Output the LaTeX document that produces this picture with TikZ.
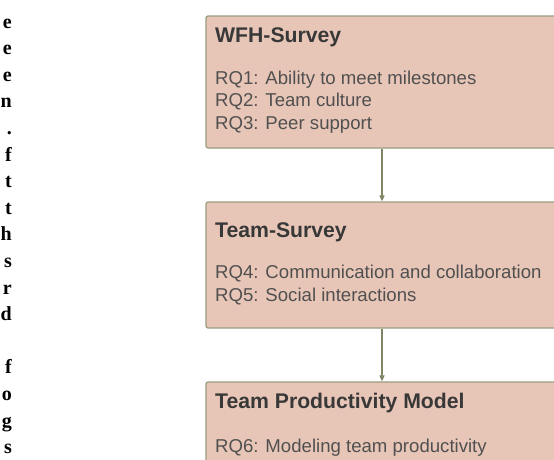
\documentclass[tikz,border=0pt]{standalone}
\usepackage{fontspec}
\setmainfont{Liberation Sans}
\newfontfamily\pagefont{Liberation Serif}
\usetikzlibrary{arrows.meta}
\definecolor{boxfill}{HTML}{E8C6B7}
\definecolor{boxline}{HTML}{9A9C80}
\definecolor{linkline}{HTML}{7E8666}
\definecolor{boxtext}{HTML}{383838}
\definecolor{itemtext}{HTML}{505050}
\tikzset{
  stage/.style={draw=boxline, line width=1.2pt, fill=boxfill, rounded corners=2pt,
    minimum width=352pt, inner sep=0pt},
  head/.style={anchor=base west, inner sep=0pt, text=boxtext,
    font=\fontsize{21.2}{25}\selectfont\bfseries},
  item/.style={anchor=base west, inner sep=0pt, text=itemtext,
    font=\fontsize{18.6}{22}\selectfont},
  flow/.style={draw=linkline, line width=1.4pt, -{Triangle[length=6pt,width=5pt]}},
  margin/.style={anchor=base east, inner sep=0pt,
    font=\pagefont\bfseries\fontsize{20}{24}\selectfont},
}
\begin{document}
\begin{tikzpicture}[x=1pt,y=-1pt]
      \clip (0,0) rectangle (554,459);
      \fill[white] (0,0) rectangle (554,459);
      % cut-off ends of the text lines on the left
      \path
        (12,28.0) node[margin] (l0){e}
        (12,54.6) node[margin] (l1){e}
        (12,81.2) node[margin] (l2){e}
        (12,107.8) node[margin] (l3){n}
        (12,134.4) node[margin] (l4){.}
        (12,161.0) node[margin] (l5){f}
        (12,187.6) node[margin] (l6){t}
        (12,214.2) node[margin] (l7){t}
        (12,240.8) node[margin] (l8){h}
        (12,267.4) node[margin] (l9){s}
        (12,294.0) node[margin] (l10){r}
        (12,320.6) node[margin] (l11){d}
        (12,373.8) node[margin] (l12){f}
        (12,400.4) node[margin] (l13){o}
        (12,427.0) node[margin] (l14){g}
        (12,453.6) node[margin] (l15){s};
      % stages
      \node[stage, minimum height=132pt] (wfh) at (382,82) {};
      \node[stage, minimum height=126pt] (team) at (382,265) {};
      \node[stage, minimum height=140pt] (model) at (382,452) {};
      \draw[flow] (wfh) -- (team);
      \draw[flow] (team) -- (model);
      \path
        (215,42) node[head] (wfhT){WFH-Survey}
        (215,84) node[item] (rq1){RQ1: Ability to meet milestones}
        (215,106.5) node[item] (rq2){RQ2: Team culture}
        (215,129) node[item] (rq3){RQ3: Peer support}
        (215,237) node[head] (teamT){Team-Survey}
        (215,278) node[item] (rq4){RQ4: Communication and collaboration}
        (215,301) node[item] (rq5){RQ5: Social interactions}
        (215,408) node[head] (modelT){Team Productivity Model}
        (215,452) node[item] (rq6){RQ6: Modeling team productivity};
    \end{tikzpicture}
\end{document}
